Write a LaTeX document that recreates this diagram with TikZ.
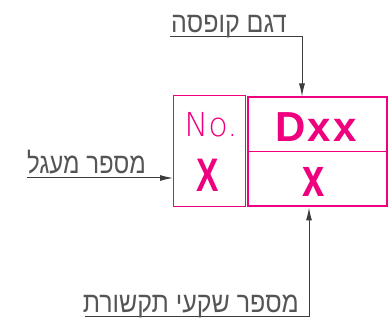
\documentclass[tikz,border=0pt]{standalone}
\usepackage{fontspec}
\setmainfont{Liberation Sans}
\newfontfamily\hebfont[Script=Hebrew]{Liberation Sans}
\newfontfamily\thinfont{DejaVu Sans ExtraLight}
\TeXXeTstate=1
\usetikzlibrary{arrows.meta}
\definecolor{hotpink}{RGB}{238,0,126}
\definecolor{leadgray}{RGB}{60,60,60}
\definecolor{textgray}{RGB}{85,85,85}
\tikzset{
  boxline/.style={draw=hotpink, line width=1pt, inner sep=0pt, anchor=north west},
  leader/.style={draw=leadgray, line width=1pt, -{Latex[length=13pt,width=6pt]}},
  heb/.style={text=textgray, inner sep=0pt, anchor=base east, font=\hebfont\fontsize{25}{25}\selectfont, yscale=1.15, transform shape},
  bigtxt/.style={text=hotpink, inner sep=0pt, font=\bfseries\fontsize{42}{42}\selectfont}
}
\begin{document}
\begin{tikzpicture}[x=1pt,y=-1pt]
\useasboundingbox (0,0) rectangle (392,331);
% boxes
\node[boxline, minimum width=72pt, minimum height=111pt] (lbox) at (173,95) {};
\node[boxline, line width=2pt, minimum width=139pt, minimum height=109pt] (rbox) at (246.5,96.5) {};
\draw[draw=hotpink, line width=1pt] (rbox.west) -- (rbox.east);
% texts in boxes
\node[text=hotpink, inner sep=0pt, font=\thinfont\fontsize{33}{33}\selectfont, xscale=0.97, transform shape] (no) at (211,125) {No.};
\node[bigtxt, xscale=0.8, yscale=1.12, transform shape] (bigx) at (208,175) {X};
\node[bigtxt, xscale=0.8, yscale=1.1, transform shape, font=\bfseries\fontsize{50}{50}\selectfont] (smx) at (314,182) {x};
\node[bigtxt] (dxx) at (316,127) {D\kern2pt x\kern2pt x};
% top leader
\coordinate (t1) at (170,37);
\coordinate (tc) at (302,37);
\draw[leader] (t1) -- (tc) -- (tc |- rbox.north);
\node[heb] (toptext) at (287,32.5) {\beginR דגם קופסה\endR};
% left leader
\coordinate (l1) at (27,178);
\draw[leader] (l1) -- (l1 -| lbox.west);
\node[heb, xscale=0.96] (lefttext) at (146,173.5) {\beginR מספר מעגל\endR};
% bottom leader
\coordinate (b1) at (85,317);
\coordinate (bc) at (309,317);
\draw[leader] (b1) -- (bc) -- (bc |- rbox.south);
\node[heb] (bottext) at (299,312.5) {\beginR מספר שקעי תקשורת\endR};
\end{tikzpicture}
\end{document}
